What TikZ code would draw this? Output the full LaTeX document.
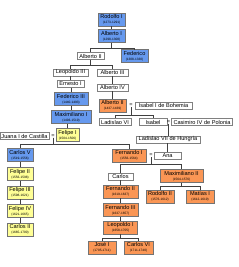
\documentclass[tikz,border=0pt]{standalone}
\usepackage{fontspec}
\setmainfont{Liberation Sans}
\definecolor{habsblue}{RGB}{102,153,238}
\definecolor{habsorange}{RGB}{250,150,85}
\definecolor{habsyellow}{RGB}{255,255,150}
\newcommand{\nm}{\fontsize{5.6}{5.2}\selectfont}
\newcommand{\yrs}[1]{{\fontsize{3.2}{3.4}\selectfont #1}}
\tikzset{
  plainbox/.style={draw=black!50, fill=white, line width=0.4pt, inner xsep=0pt, inner ysep=0pt, minimum height=7pt, font=\nm},
  rulerbox/.style={draw=black!55, line width=0.4pt, inner xsep=0pt, inner ysep=0pt, minimum height=13pt, align=center, font=\nm},
  bluebox/.style={rulerbox, fill=habsblue},
  orangebox/.style={rulerbox, fill=habsorange},
  yellowbox/.style={rulerbox, fill=habsyellow},
  eqsign/.style={inner sep=0pt, font=\nm},
  link/.style={draw=black!75, line width=0.5pt}
}
\begin{document}
\begin{tikzpicture}[x=1pt, y=-1pt]
\useasboundingbox (0,0) rectangle (238,267);
\node[bluebox, minimum width=27pt] (rodolfoI) at (111.5,19.5) {Rodolfo I\\\yrs{(1273-1291)}};
\node[bluebox, minimum width=27pt] (albertoI) at (111.5,36) {Alberto I\\\yrs{(1298-1308)}};
\node[plainbox, minimum width=27pt] (albertoII) at (90.5,56) {Alberto II};
\node[bluebox, minimum width=27pt] (federico) at (134.5,56) {Federico\\\yrs{(1308-1330)}};
\node[plainbox, minimum width=35pt] (leopoldoIII) at (70.5,72.5) {Leopoldo III};
\node[plainbox, minimum width=31pt] (albertoIII) at (112.5,72.5) {Alberto III};
\node[plainbox, minimum width=27pt] (ernestoI) at (70.5,84) {Ernesto I};
\node[plainbox, minimum width=31pt] (albertoIV) at (112.5,87.5) {Alberto IV};
\node[bluebox, minimum width=34pt] (federicoIII) at (71,99) {Federico III\\\yrs{(1440-1493)}};
\node[orangebox, minimum width=27pt] (albertoIIb) at (112.5,105.5) {Alberto II\\\yrs{(1437-1439)}};
\node[eqsign] (eqA) at (131,105.5) {=};
\node[plainbox, minimum width=57pt] (isabelB) at (163.5,105.5) {Isabel I de Bohemia};
\node[bluebox, minimum width=40pt] (maximilianoI) at (71,117) {Maximiliano I\\\yrs{(1493-1519)}};
\node[plainbox, minimum width=32pt] (ladislaoVI) at (115,122) {Ladislao VI};
\node[plainbox, minimum width=28pt] (isabel) at (153,122) {Isabel};
\node[eqsign] (eqB) at (168.5,122) {=};
\node[plainbox, minimum width=61pt] (casimiro) at (202,122) {Casimiro IV de Polonia};
\node[plainbox, minimum width=49pt] (juana) at (24.5,136) {Juana I de Castilla};
\node[eqsign] (eqC) at (53,136) {=};
\node[yellowbox, minimum width=23pt] (felipeI) at (67.5,135) {Felipe I\\\yrs{(1504-1506)}};
\node[plainbox, minimum width=64pt] (ladislaoVII) at (168,139.5) {Ladislao VII de Hungría};
\node[bluebox, minimum width=26pt] (carlosV) at (20,155) {Carlos V\\\yrs{(1519-1556)}};
\node[orangebox, minimum width=34pt] (fernandoI) at (129,155.5) {Fernando I\\\yrs{(1556-1564)}};
\node[eqsign] (eqD) at (151,155.5) {=};
\node[plainbox, minimum width=27pt] (ana) at (167.5,155.5) {Ana};
\node[yellowbox, minimum width=26pt] (felipeII) at (20,174) {Felipe II\\\yrs{(1556-1598)}};
\node[plainbox, minimum width=25pt] (carlos) at (120.5,176.5) {Carlos};
\node[orangebox, minimum width=43pt] (maximilianoII) at (181.5,176) {Maximiliano II\\\yrs{(1564-1576)}};
\node[yellowbox, minimum width=26pt] (felipeIII) at (20,192.5) {Felipe III\\\yrs{(1598-1621)}};
\node[orangebox, minimum width=35pt] (fernandoII) at (120.5,191.5) {Fernando II\\\yrs{(1619-1637)}};
\node[orangebox, minimum width=28pt] (rodolfoII) at (160,196.5) {Rodolfo II\\\yrs{(1576-1612)}};
\node[orangebox, minimum width=28pt] (matiasI) at (200,196.5) {Matías I\\\yrs{(1612-1619)}};
\node[yellowbox, minimum width=26pt] (felipeIV) at (20,211) {Felipe IV\\\yrs{(1621-1665)}};
\node[orangebox, minimum width=35pt] (fernandoIII) at (120.5,210) {Fernando III\\\yrs{(1637-1657)}};
\node[yellowbox, minimum width=26pt] (carlosII) at (20,229.5) {Carlos II\\\yrs{(1665-1700)}};
\node[orangebox, minimum width=34pt] (leopoldoI) at (120.5,227.5) {Leopoldo I\\\yrs{(1658-1705)}};
\node[orangebox, minimum width=28pt] (joseI) at (102,247.5) {José I\\\yrs{(1705-1711)}};
\node[orangebox, minimum width=29pt] (carlosVI) at (138.5,247.5) {Carlos VI\\\yrs{(1711-1740)}};
\draw[link] (rodolfoI) -- (albertoI);
\draw[link] (albertoI.south) -- ++(0,6) -| (albertoII.north);
\draw[link] (albertoI.south) -- ++(0,6) -| (federico.north);
\draw[link] (albertoII.south) -- ++(0,6) -| (leopoldoIII.north);
\draw[link] (albertoII.south) -- ++(0,6) -| (albertoIII.north);
\draw[link] (leopoldoIII) -- (ernestoI);
\draw[link] (ernestoI.south -| federicoIII.north) -- (federicoIII.north);
\draw[link] (federicoIII) -- (maximilianoI);
\draw[link] (maximilianoI.south -| felipeI.north) -- (felipeI.north);
\draw[link] (albertoIII) -- (albertoIV);
\draw[link] (albertoIV) -- (albertoIIb);
\draw[link] (eqA.south) -- ++(0,8) -| (ladislaoVI.north);
\draw[link] (eqA.south) -- ++(0,8) -| (isabel.north);
\draw[link] (eqB.south) -- (eqB.south |- ladislaoVII.north);
\draw[link] (ladislaoVII.south -| ana.north) -- (ana.north);
\draw[link] (eqC.south) -- ++(0,7) -| (carlosV.north);
\draw[link] (eqC.south) -- ++(0,7) -| (fernandoI.north);
\draw[link] (carlosV) -- (felipeII);
\draw[link] (felipeII) -- (felipeIII);
\draw[link] (felipeIII) -- (felipeIV);
\draw[link] (felipeIV) -- (carlosII);
\draw[link] (eqD.south) -- ++(0,7) -| (carlos.north);
\draw[link] (eqD.south) -- ++(0,7) -| (maximilianoII.north);
\draw[link] (carlos) -- (fernandoII);
\draw[link] (fernandoII) -- (fernandoIII);
\draw[link] (fernandoIII) -- (leopoldoI);
\draw[link] (leopoldoI.south) -- ++(0,4) -| (joseI.north);
\draw[link] (leopoldoI.south) -- ++(0,4) -| (carlosVI.north);
\draw[link] (maximilianoII.south) -- ++(0,4) -| (rodolfoII.north);
\draw[link] (maximilianoII.south) -- ++(0,4) -| (matiasI.north);
\end{tikzpicture}
\end{document}
